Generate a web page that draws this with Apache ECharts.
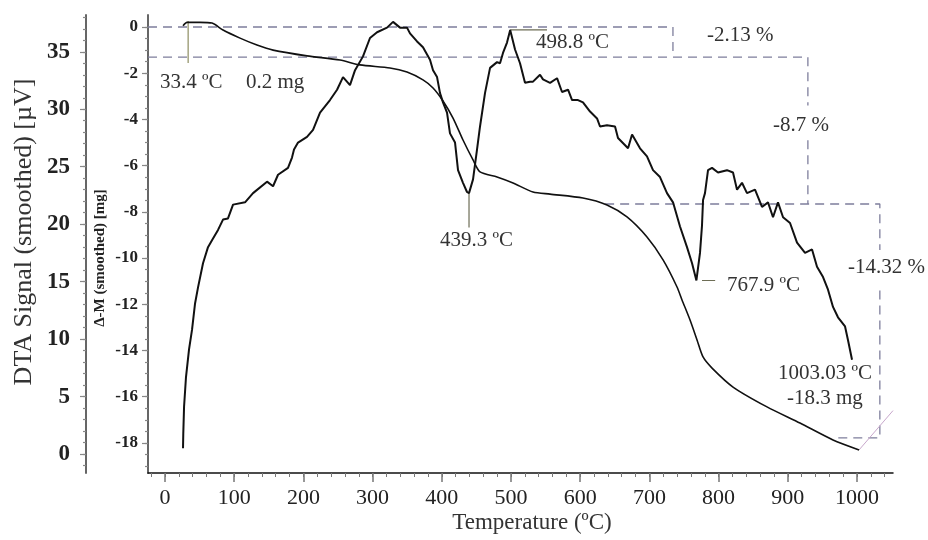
<!DOCTYPE html>
<html>
<head>
<meta charset="utf-8">
<title>DTA / TG</title>
<script src="https://cdn.jsdelivr.net/npm/echarts@6/dist/echarts.min.js"></script>
<style>
  html, body {margin: 0; padding: 0; background: #fff;}
  #chart {width: 928px; height: 540px;}
</style>
</head>
<body>
<div id="chart"></div>
<script>
  /******************/
  //region    //data

  // DTA signal (smoothed) [µV] vs temperature [ºC]
  const dtaTemp = [26.0, 26.4, 27.5, 30.3, 34.7, 39.0, 43.4, 47.7, 54.9, 62.1,
    67.9, 76.6, 83.8, 91.0, 98.3, 115.6, 127.2, 147.4, 156.1, 163.3,
    177.7, 183.5, 186.4, 192.2, 205.2, 213.9, 224.0, 238.4, 248.6, 257.2,
    267.3, 274.6, 286.1, 296.2, 306.4, 320.8, 329.5, 339.6, 349.7, 354.0,
    364.2, 372.8, 382.9, 387.3, 393.1, 397.4, 401.7, 407.5, 411.8, 419.1,
    423.4, 430.6, 436.4, 439.3, 445.1, 450.9, 455.2, 462.4, 469.7, 479.8,
    484.1, 488.4, 494.2, 498.8, 505.8, 513.0, 520.2, 527.5, 531.8, 541.9,
    546.2, 556.4, 566.5, 573.7, 582.4, 588.2, 596.8, 604.0, 614.2, 624.3,
    628.6, 638.7, 650.3, 654.6, 669.1, 674.9, 686.4, 696.5, 705.2, 715.3,
    725.4, 734.1, 744.2, 754.3, 761.6, 767.9, 773.1, 776.0, 777.5, 780.3,
    784.7, 790.5, 799.1, 812.1, 820.8, 826.6, 833.8, 841.0, 852.6, 862.7,
    871.4, 878.6, 885.8, 893.1, 903.2, 913.3, 924.9, 935.0, 942.2, 950.9,
    958.1, 965.3, 972.5, 982.7, 987.0, 992.8];
  const dtaSignal = [0.5, 1.8, 4.1, 6.7, 9.1, 10.8, 13.1, 14.5, 16.6, 18.0,
    18.6, 19.5, 20.4, 20.5, 21.7, 21.9, 22.7, 23.7, 23.3, 24.3,
    24.9, 25.8, 26.5, 27.1, 27.6, 28.2, 29.7, 30.8, 31.7, 32.8,
    32.1, 33.4, 34.6, 36.2, 36.7, 37.1, 37.6, 37.1, 37.1, 36.6,
    35.9, 35.4, 34.3, 33.4, 32.8, 31.4, 30.6, 29.7, 27.9, 27.1,
    24.7, 23.6, 22.8, 22.7, 23.9, 26.5, 28.5, 31.4, 33.6, 34.1,
    34.0, 34.9, 35.8, 36.9, 35.2, 34.0, 32.3, 32.4, 32.4, 33.0,
    32.6, 32.3, 32.7, 31.5, 31.7, 30.8, 30.8, 30.6, 29.8, 29.2,
    28.5, 28.6, 28.5, 27.5, 26.6, 27.8, 26.6, 25.9, 24.7, 24.1,
    22.7, 21.9, 19.8, 18.0, 16.6, 15.1, 17.5, 19.9, 22.1, 22.7,
    24.7, 24.9, 24.5, 24.7, 24.5, 23.0, 23.6, 22.7, 23.0, 21.5,
    21.9, 20.6, 21.9, 20.6, 20.1, 18.4, 17.5, 17.8, 16.3, 15.4,
    14.3, 12.8, 11.9, 11.1, 9.9, 8.2];

  // Δ-M (smoothed) [mg] vs temperature [ºC]
  const tgTemp = [26.0, 31.8, 50.6, 67.9, 83.8, 108.4, 132.9, 156.1, 205.2, 252.9,
    281.8, 325.1, 349.7, 372.8, 387.3, 401.7, 416.2, 430.6, 445.1, 455.2,
    479.8, 502.9, 531.8, 556.4, 604.0, 638.7, 667.6, 696.5, 719.7, 739.9,
    747.1, 758.7, 768.8, 777.5, 790.5, 820.8, 869.9, 917.6, 965.3, 1003.0];
  const tgMass = [0.05, 0.2, 0.2, 0.17, -0.13, -0.48, -0.78, -1.0, -1.25, -1.43,
    -1.64, -1.77, -1.95, -2.29, -2.64, -3.2, -3.94, -4.89, -5.75, -6.27,
    -6.49, -6.75, -7.14, -7.23, -7.4, -7.7, -8.22, -9.09, -10.08, -11.25,
    -11.81, -12.68, -13.54, -14.28, -14.76, -15.58, -16.44, -17.14, -17.87, -18.3];

  // mass-loss step guides (dashed), in [ºC, mg]
  const stepGuides = [
    [[-24.6, 0], [734, 0], [734, -1.3]],
    [[-24.6, -1.3], [929, -1.3], [929, -3.4]],
    [[929, -4.9], [929, -7.66]],
    [[636, -7.66], [1033, -7.66], [1033, -9.65]],
    [[1033, -11.4], [1033, -17.78], [968, -17.78]],
  ];

  // peak marker strokes
  const tgMarkers = [[[33.4, 0.26], [33.4, -1.56]]];
  const dtaMarkers = [
    [[439.3, 22.7], [439.3, 19.7]],
    [[498.8, 36.9], [552, 36.9]],
    [[776, 15.1], [795, 15.1]],
  ];
  const endMarker = [[1003.0, -18.3], [1052, -16.6]];

  // tick values
  const tempTicks = [0, 100, 200, 300, 400, 500, 600, 700, 800, 900, 1000];
  const tempMinor = [];
  for (let t = -20; t <= 1040; t += 20) tempMinor.push(t);
  const massTicks = [0, -2, -4, -6, -8, -10, -12, -14, -16, -18];
  const massMinor = [];
  for (let m = 0; m >= -19; m -= 0.5) massMinor.push(m);
  const dtaTicks = [0, 5, 10, 15, 20, 25, 30, 35];
  const dtaMinor = [];
  for (let v = -1; v <= 38; v += 1) dtaMinor.push(v);

  // annotations
  const notes = [
    {text: '33.4 ºC', x: 160, y: 82},
    {text: '0.2 mg', x: 246, y: 82},
    {text: '498.8 ºC', x: 536, y: 42},
    {text: '-2.13 %', x: 707, y: 35},
    {text: '-8.7 %', x: 773, y: 125},
    {text: '439.3 ºC', x: 440, y: 240},
    {text: '767.9 ºC', x: 727, y: 285},
    {text: '-14.32 %', x: 848, y: 267},
    {text: '1003.03 ºC', x: 778, y: 373},
    {text: '-18.3 mg', x: 787, y: 398},
  ];

  //endregion

  /******************/
  //region    //chart

  const FONT = '"Liberation Serif", "Times New Roman", serif';
  const T_MIN = -24.6, T_MAX = 1052;
  const M_MIN = -19.3, M_MAX = 0.52;
  const D_MIN = -1.65, D_MAX = 38.2;

  function zip(xs, ys) {
    return xs.map((x, i) => [x, ys[i]]);
  }

  function xAxisOf(major) {
    return {
      type: 'value', min: T_MIN, max: T_MAX, position: 'bottom',
      splitLine: {show: false},
      axisLine: {show: major, onZero: false, lineStyle: {color: '#111', width: 1.5}},
      axisTick: {
        customValues: major ? tempTicks : tempMinor,
        length: major ? 9 : 4,
        lineStyle: {color: '#777', width: major ? 1.5 : 1},
      },
      axisLabel: {
        show: major, customValues: tempTicks, margin: 14,
        formatter: v => String(v),
        fontFamily: FONT, fontSize: 22, color: '#222',
      },
    };
  }

  function yAxisOf(min, max, offset, ticks, minor, isMajor, fontSize) {
    return {
      type: 'value', min: min, max: max, position: 'left', offset: offset,
      splitLine: {show: false},
      axisLine: {show: isMajor, onZero: false, lineStyle: {color: '#666', width: 2}},
      axisTick: {
        customValues: isMajor ? ticks : minor,
        length: isMajor ? 6 : 3,
        lineStyle: {color: '#888', width: 1.2},
      },
      axisLabel: {
        show: isMajor, customValues: ticks,
        margin: offset ? 16 : 10,
        formatter: v => String(v),
        fontFamily: FONT, fontSize: fontSize, fontWeight: 'bold', color: '#222',
      },
    };
  }

  function lineSeries(data, yIdx, color, width, type) {
    return {
      type: 'line', data: data, xAxisIndex: 0, yAxisIndex: yIdx,
      showSymbol: false, symbol: 'none', silent: true, animation: false,
      lineStyle: {color: color, width: width, type: type || 'solid'},
    };
  }

  const series = [];
  stepGuides.forEach(g => series.push(lineSeries(g, 0, '#7e7e9c', 1.3, [9, 6])));
  tgMarkers.forEach(g => series.push(lineSeries(g, 0, '#8d8d62', 1.2)));
  dtaMarkers.forEach(g => series.push(lineSeries(g, 2, '#6d6d55', 1.2)));
  series.push(lineSeries(endMarker, 0, '#c8a8cc', 1));
  series.push(Object.assign(lineSeries(zip(tgTemp, tgMass), 0, '#111', 1.6), {smooth: 0.25}));
  series.push(lineSeries(zip(dtaTemp, dtaSignal), 2, '#111', 2));

  const graphics = notes.map(n => ({
    type: 'text', x: n.x, y: n.y, silent: true,
    style: {text: n.text, font: '21px ' + FONT, fill: '#333', verticalAlign: 'middle'},
  }));
  graphics.push({
    type: 'text', x: 24, y: 232, rotation: Math.PI / 2, silent: true,
    style: {
      text: 'DTA Signal (smoothed) [µV]', font: '26px ' + FONT, fill: '#333',
      align: 'center', verticalAlign: 'middle',
    },
  });
  graphics.push({
    type: 'text', x: 100, y: 258, rotation: Math.PI / 2, silent: true,
    style: {
      text: 'Δ-M (smoothed) [mg]', font: 'bold 15px ' + FONT, fill: '#222',
      align: 'center', verticalAlign: 'middle',
    },
  });
  graphics.push({
    type: 'text', x: 532, y: 523, silent: true,
    style: {
      text: 'Temperature (ºC)', font: '23px ' + FONT, fill: '#333',
      align: 'center', verticalAlign: 'middle',
    },
  });

  const chart = echarts.init(document.getElementById('chart'), null, {renderer: 'canvas'});
  chart.setOption({
    backgroundColor: '#fff',
    animation: false,
    grid: {left: 148, right: 35, top: 15, bottom: 67, containLabel: false},
    xAxis: [xAxisOf(true), xAxisOf(false)],
    yAxis: [
      yAxisOf(M_MIN, M_MAX, 0, massTicks, massMinor, true, 17),
      yAxisOf(M_MIN, M_MAX, 0, massTicks, massMinor, false, 17),
      yAxisOf(D_MIN, D_MAX, 62, dtaTicks, dtaMinor, true, 23),
      yAxisOf(D_MIN, D_MAX, 62, dtaTicks, dtaMinor, false, 23),
    ],
    series: series,
    graphic: graphics,
  });

  //endregion
</script>
</body>
</html>
